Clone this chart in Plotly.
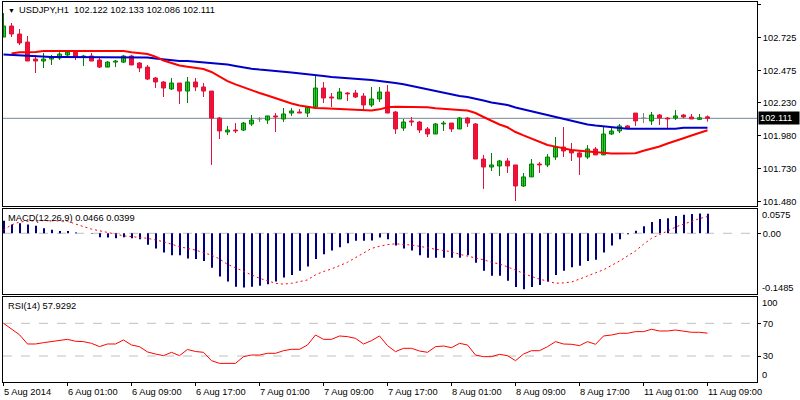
import plotly.graph_objects as go

# ---------------- data ----------------
idx = list(range(89))
open_ = [102.728,102.812,102.751,102.690,102.561,102.546,102.561,102.569,102.592,102.614,
         102.576,102.584,102.554,102.500,102.538,102.538,102.584,102.531,102.500,102.417,
         102.387,102.334,102.379,102.318,102.387,102.349,102.318,102.113,102.007,102.022,
         102.022,102.068,102.106,102.098,102.129,102.106,102.151,102.159,102.151,102.197,
         102.341,102.273,102.258,102.303,102.303,102.280,102.212,102.258,102.311,102.159,
         102.037,102.091,102.083,102.030,101.992,102.068,102.075,102.030,102.113,102.068,
         101.802,101.741,101.749,101.787,101.757,101.597,101.666,101.764,101.757,101.817,
         101.893,101.870,101.848,101.817,101.878,101.833,101.992,102.015,102.053,102.151,
         102.113,102.091,102.136,102.113,102.113,102.136,102.121,102.103,102.122]
high_ = [102.910,102.835,102.789,102.736,102.592,102.607,102.592,102.614,102.622,102.622,
         102.592,102.607,102.576,102.546,102.554,102.592,102.592,102.538,102.516,102.425,
         102.394,102.417,102.379,102.425,102.417,102.379,102.318,102.121,102.053,102.075,
         102.083,102.136,102.121,102.129,102.151,102.189,102.189,102.182,102.205,102.440,
         102.387,102.303,102.341,102.311,102.326,102.303,102.349,102.349,102.364,102.167,
         102.106,102.121,102.091,102.045,102.075,102.091,102.075,102.121,102.121,102.075,
         101.833,101.848,101.795,101.810,101.757,101.696,101.802,101.779,101.840,101.969,
         102.045,101.924,101.863,101.908,101.893,102.045,102.045,102.068,102.060,102.151,
         102.151,102.159,102.144,102.121,102.174,102.144,102.144,102.144,102.133]
low_ = [102.728,102.728,102.667,102.546,102.455,102.493,102.516,102.554,102.576,102.554,
        102.508,102.546,102.493,102.500,102.500,102.531,102.516,102.462,102.402,102.341,
        102.273,102.326,102.220,102.227,102.318,102.273,101.757,101.954,101.984,101.999,
        102.015,102.053,102.083,102.068,102.007,102.083,102.129,102.151,102.121,102.197,
        102.227,102.197,102.258,102.242,102.265,102.174,102.197,102.235,102.151,101.992,
        102.015,102.053,101.999,101.969,101.992,102.015,102.007,102.030,102.045,101.802,
        101.575,101.711,101.673,101.696,101.483,101.590,101.666,101.696,101.741,101.795,
        101.817,101.787,101.681,101.802,101.833,101.833,101.984,101.999,102.030,102.053,
        102.075,102.060,102.060,102.030,102.098,102.113,102.106,102.100,102.086]
close_ = [102.812,102.751,102.683,102.546,102.546,102.561,102.576,102.599,102.614,102.576,
          102.584,102.546,102.500,102.538,102.546,102.584,102.516,102.493,102.409,102.387,
          102.341,102.379,102.318,102.387,102.349,102.318,102.113,102.015,102.022,102.015,
          102.075,102.098,102.106,102.129,102.121,102.144,102.167,102.151,102.197,102.341,
          102.265,102.265,102.311,102.296,102.273,102.212,102.258,102.311,102.151,102.030,
          102.083,102.083,102.022,101.992,102.068,102.075,102.030,102.113,102.075,101.802,
          101.741,101.757,101.787,101.749,101.597,101.666,101.764,101.757,101.817,101.893,
          101.863,101.848,101.817,101.878,101.833,101.992,102.015,102.053,102.037,102.091,
          102.113,102.136,102.113,102.106,102.129,102.121,102.106,102.115,102.111]

ma_red = [None,102.604,102.612,102.612,102.614] + [102.622]*11 + [
    102.612,102.607,102.599,102.579,102.550,102.531,102.512,102.503,102.495,102.485,
    102.463,102.428,102.394,102.369,102.345,102.322,102.303,102.284,102.263,102.242,
    102.223,102.208,102.199,102.189,102.187,102.184,102.182,102.176,102.172,102.172,
    102.170,102.179,102.195,102.199,102.199,102.199,102.195,102.195,102.187,102.182,
    102.174,102.174,102.170,102.151,102.121,102.091,102.064,102.043,102.007,101.981,
    101.958,101.937,101.909,101.896,101.882,101.871,101.865,101.859,101.850,101.844,
    101.843,101.843,101.843,101.846,101.865,101.882,101.897,101.920,101.943,101.960,
    101.981,102.003,102.020]
ma_blue = [102.595,102.592,102.588,102.584,102.580] + [102.576]*13 + [
    102.573,102.565,102.557,102.550,102.546,102.546,102.541,102.538,102.533,102.527,
    102.519,102.508,102.497,102.488,102.481,102.474,102.470,102.465,102.459,102.451,
    102.444,102.440,102.432,102.425,102.421,102.413,102.409,102.406,102.402,102.394,
    102.389,102.379,102.369,102.356,102.346,102.334,102.318,102.305,102.292,102.280,
    102.273,102.261,102.246,102.231,102.223,102.212,102.193,102.178,102.163,102.151,
    102.136,102.123,102.106,102.091,102.079,102.064,102.056,102.049,102.041,102.037] + \
    [102.032]*7 + [102.040]*4

macd_hist = [0.030,0.021,0.024,0.021,0.018,0.012,0.0087,0.0055,0.0055,0.0016,
             0.0003,-0.001,-0.0095,-0.010,-0.012,-0.0095,-0.012,-0.014,-0.027,-0.036,
             -0.046,-0.052,-0.052,-0.060,-0.061,-0.066,-0.082,-0.103,-0.115,-0.127,
             -0.129,-0.127,-0.125,-0.121,-0.115,-0.105,-0.099,-0.089,-0.079,-0.061,
             -0.050,-0.041,-0.033,-0.024,-0.018,-0.018,-0.017,-0.010,-0.014,-0.029,
             -0.036,-0.041,-0.052,-0.058,-0.058,-0.058,-0.058,-0.058,-0.052,-0.070,
             -0.089,-0.101,-0.101,-0.113,-0.128,-0.133,-0.128,-0.123,-0.115,-0.099,
             -0.089,-0.081,-0.077,-0.066,-0.063,-0.046,-0.029,-0.014,-0.002,0.006,
             0.017,0.027,0.034,0.036,0.041,0.044,0.046,0.047,0.0466]
macd_signal = [0.008,0.020,0.027,0.029,0.030,0.030,0.030,0.030,0.029,0.022,
               0.016,0.010,0.006,0.002,-0.002,-0.006,-0.008,-0.010,-0.012,-0.016,
               -0.020,-0.026,-0.032,-0.036,-0.040,-0.046,-0.052,-0.061,-0.074,-0.082,
               -0.091,-0.099,-0.107,-0.113,-0.119,-0.121,-0.119,-0.115,-0.111,-0.099,
               -0.091,-0.085,-0.077,-0.069,-0.058,-0.047,-0.036,-0.031,-0.027,-0.025,
               -0.026,-0.028,-0.031,-0.035,-0.038,-0.041,-0.044,-0.050,-0.054,-0.058,
               -0.063,-0.069,-0.073,-0.080,-0.088,-0.096,-0.103,-0.109,-0.114,-0.119,
               -0.118,-0.116,-0.109,-0.101,-0.094,-0.087,-0.077,-0.066,-0.054,-0.042,
               -0.026,-0.012,-0.003,0.005,0.015,0.022,0.029,0.035,0.0399]
rsi = [70,63,56,44.7,44.7,46.3,47.5,49.6,50.4,48,
       47.6,45.5,41.5,44.7,44.7,49.6,43.5,41.4,35,32.4,
       30.4,34.5,30.4,38,35.5,34.5,24.3,21,21,21,
       29.2,31.2,31.2,33.3,33.3,36.5,38.2,38.2,43.5,55.7,
       50.4,50.4,54.5,53.7,51.6,44.7,48.8,54.5,42.7,35.3,
       39.4,39.4,36.1,34.5,41.4,42.2,40.2,45.5,43.5,31.2,
       29.2,29.2,32,30.4,24.3,32.4,36.5,36.5,41.4,47.6,
       44.7,44.3,42.7,47.6,44.3,54.5,55.7,57.8,57.8,59.8,
       59.8,62.7,60.6,60.6,61.8,60.6,59,59,57.9292]

price_ticks = [101.480, 101.730, 101.980, 102.230, 102.475, 102.725, 102.975]
price_tick_text = ["101.480", "101.730", "101.980", "102.230", "102.475", "102.725", "102.975"]
last_price = 102.111
time_tick_idx = [0, 8, 16, 24, 32, 40, 48, 56, 64, 72, 80, 88]
time_tick_text = ["5 Aug 2014", "6 Aug 01:00", "6 Aug 09:00", "6 Aug 17:00", "7 Aug 01:00",
                  "7 Aug 09:00", "7 Aug 17:00", "8 Aug 01:00", "8 Aug 09:00", "8 Aug 17:00",
                  "11 Aug 01:00", "11 Aug 09:00"]
title_text = "USDJPY,H1\u00a0\u00a0102.122 102.133 102.086 102.111"
macd_text = "MACD(12,26,9) 0.0466 0.0399"
rsi_text = "RSI(14) 57.9292"

# ---------------- styling ----------------
FONT = "Liberation Sans"
FS = 9.3
BULL_FILL, BULL_LINE = "#32CD32", "#008000"
BEAR_FILL, BEAR_LINE = "#FF1030", "#DC143C"
DOJI = "#808080"
W, H = 800, 400
HIST_SHIFT = 1 / 16  # half a pixel, so 2px stems sit on whole pixels

def px_x(p):
    return p / W

def px_y(p):
    return 1 - p / H

fig = go.Figure()

# wicks
groups = {"bull": ([], []), "bear": ([], []), "doji": ([], [])}
for i, o, h, l, c in zip(idx, open_, high_, low_, close_):
    k = "bull" if c > o else ("bear" if c < o else "doji")
    gx, gy = groups[k]
    gx += [i, i, None]
    gy += [l, h, None]
    if k == "doji":
        gx += [i - 0.3, i + 0.3, None]
        gy += [o, o, None]
for k, col in (("bull", BULL_LINE), ("bear", BEAR_LINE), ("doji", DOJI)):
    fig.add_trace(go.Scatter(x=groups[k][0], y=groups[k][1], mode="lines",
                             line=dict(color=col, width=1), hoverinfo="skip",
                             showlegend=False, xaxis="x", yaxis="y"))

# bodies
body_x, body_h, body_b, body_fill, body_line = [], [], [], [], []
for i, o, c in zip(idx, open_, close_):
    if c == o:
        continue
    body_x.append(i)
    body_h.append(abs(c - o))
    body_b.append(min(o, c))
    body_fill.append(BULL_FILL if c > o else BEAR_FILL)
    body_line.append(BULL_LINE if c > o else BEAR_LINE)
fig.add_trace(go.Bar(x=body_x, y=body_h, base=body_b, width=0.5,
                     marker=dict(color=body_fill, line=dict(color=body_line, width=1)),
                     hoverinfo="skip", showlegend=False, xaxis="x", yaxis="y"))

# moving averages
fig.add_trace(go.Scatter(x=idx, y=ma_blue, mode="lines", line=dict(color="#0000C8", width=2),
                         hoverinfo="skip", showlegend=False, xaxis="x", yaxis="y"))
fig.add_trace(go.Scatter(x=idx, y=ma_red, mode="lines", line=dict(color="#FF0000", width=2),
                         hoverinfo="skip", showlegend=False, xaxis="x", yaxis="y"))

# MACD histogram as stems
hx, hy = [], []
for i, v in zip(idx, macd_hist):
    hx += [i + HIST_SHIFT, i + HIST_SHIFT, None]
    hy += [0, v, None]
fig.add_trace(go.Scatter(x=hx, y=hy, mode="lines", line=dict(color="#000080", width=2),
                         hoverinfo="skip", showlegend=False, xaxis="x2", yaxis="y2"))
fig.add_trace(go.Scatter(x=idx, y=macd_signal, mode="lines",
                         line=dict(color="#FF0000", width=1, dash="2px,3px"),
                         hoverinfo="skip", showlegend=False, xaxis="x2", yaxis="y2"))

# RSI
fig.add_trace(go.Scatter(x=idx, y=rsi, mode="lines", line=dict(color="#FF0000", width=1),
                         hoverinfo="skip", showlegend=False, xaxis="x3", yaxis="y3"))

xdom = [px_x(3), px_x(757)]
xrange = [-0.0625, 94.1875]
axis_common = dict(showgrid=False, zeroline=False, showline=True, mirror=True,
                   linecolor="black", linewidth=1, fixedrange=True, automargin=False)
tickfont = dict(family=FONT, size=FS, color="black")

fig.update_layout(
    width=W, height=H,
    margin=dict(l=0, r=0, t=0, b=0),
    paper_bgcolor="white", plot_bgcolor="white",
    barmode="overlay", showlegend=False,
    xaxis=dict(domain=xdom, range=xrange, anchor="y", showticklabels=False, ticks="", **axis_common),
    xaxis2=dict(domain=xdom, range=xrange, anchor="y2", showticklabels=False, ticks="", **axis_common),
    xaxis3=dict(domain=xdom, range=xrange, anchor="y3", showticklabels=False, ticks="outside",
                tickvals=time_tick_idx, ticklen=3, tickcolor="black", **axis_common),
    yaxis=dict(domain=[px_y(205.5), px_y(1.5)], range=[101.449, 102.998], anchor="x", side="right",
               tickvals=price_ticks, ticktext=price_tick_text, ticks="outside", ticklen=3,
               tickcolor="black", tickfont=tickfont, **axis_common),
    yaxis2=dict(domain=[px_y(294), px_y(208.5)], range=[-0.1445, 0.059], anchor="x2", side="right",
                tickvals=[0], ticktext=["0.00"], ticks="outside", ticklen=3, tickcolor="black",
                tickfont=tickfont, **axis_common),
    yaxis3=dict(domain=[px_y(381.5), px_y(296.5)], range=[-1.2, 102.8], anchor="x3", side="right",
                tickvals=[30, 70], ticktext=["30", "70"], ticks="outside", ticklen=3,
                tickcolor="black", tickfont=tickfont, **axis_common),
)

shapes = [
    dict(type="line", xref="x domain", yref="y", x0=0, x1=1, y0=last_price, y1=last_price,
         line=dict(color="#778899", width=1), layer="below"),
    dict(type="line", xref="x2 domain", yref="y2", x0=0, x1=1, y0=0, y1=0,
         line=dict(color="#C0C0C0", width=1, dash="dash"), layer="below"),
    dict(type="line", xref="x3 domain", yref="y3", x0=0, x1=1, y0=70, y1=70,
         line=dict(color="#C0C0C0", width=1, dash="dash"), layer="below"),
    dict(type="line", xref="x3 domain", yref="y3", x0=0, x1=1, y0=30, y1=30,
         line=dict(color="#C0C0C0", width=1, dash="dash"), layer="below"),
]
fig.update_layout(shapes=shapes)

ann = []
def text_ann(x, y, text, xanchor="left", size=FS, color="black", **kw):
    d = dict(x=x, y=y, xref="paper", yref="paper", text=text, showarrow=False,
             xanchor=xanchor, yanchor="middle", font=dict(family=FONT, size=size, color=color))
    d.update(kw)
    return d

ann.append(text_ann(px_x(6), px_y(10.5), "\u25BC", size=7))
ann.append(text_ann(px_x(17), px_y(10.5), title_text))
ann.append(text_ann(px_x(6), px_y(218), macd_text))
ann.append(text_ann(px_x(6), px_y(306), rsi_text))
ann.append(text_ann(px_x(760), px_y(215), "0.0575"))
ann.append(text_ann(px_x(760), px_y(288), "-0.1485"))
ann.append(text_ann(px_x(760), px_y(303), "100"))
ann.append(text_ann(px_x(760), px_y(375), "0"))
for i, t in zip(time_tick_idx, time_tick_text):
    ann.append(dict(x=i, y=px_y(392), xref="x3", yref="paper", text=t, showarrow=False,
                    xanchor="left", yanchor="middle", xshift=-2,
                    font=dict(family=FONT, size=FS, color="black")))
ann.append(dict(x=px_x(758), y=last_price, xref="paper", yref="y", text=f"{last_price:.3f}",
                showarrow=False, xanchor="left", yanchor="middle", bgcolor="black",
                width=38, align="left", borderpad=1,
                font=dict(family=FONT, size=FS, color="white")))
fig.update_layout(annotations=ann)

fig.write_html("out.html")
